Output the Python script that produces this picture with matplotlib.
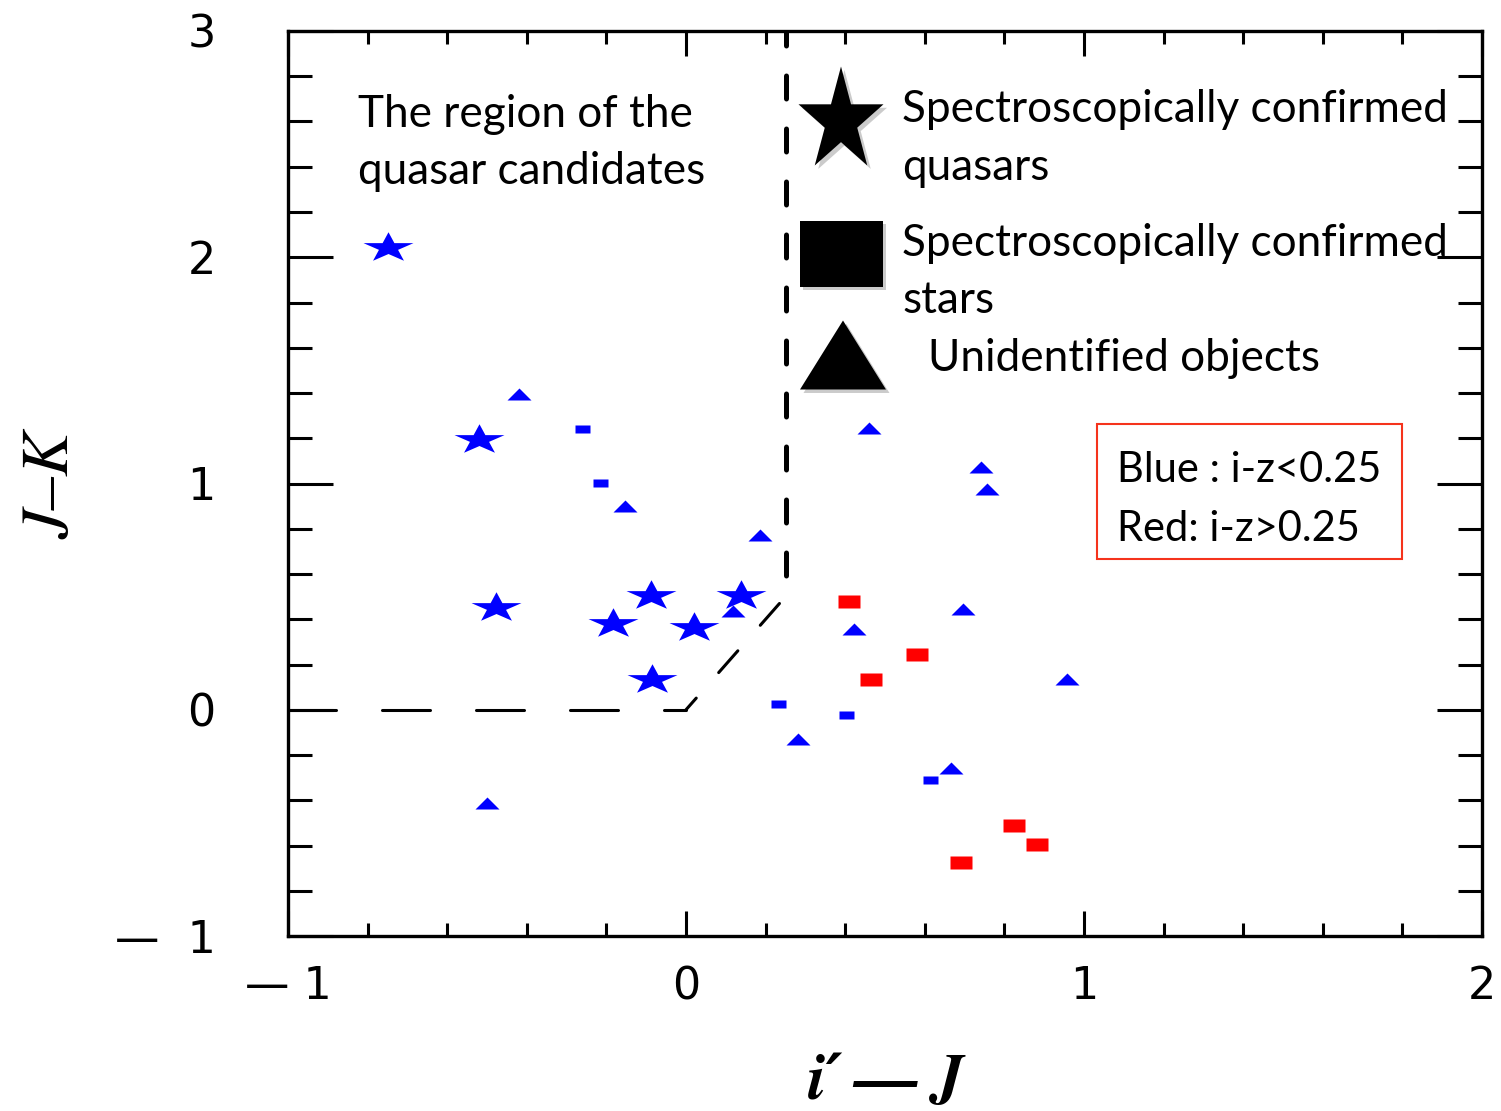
import numpy as np
import matplotlib
matplotlib.use("Agg")
import matplotlib.pyplot as plt
from matplotlib.path import Path
from matplotlib.patches import Rectangle
from matplotlib.ticker import MultipleLocator
import matplotlib.patheffects as pe

plt.rcParams['lines.scale_dashes'] = False

# ---- colour-colour measurements (i'-J, J-K) ----
quasar_ij = [-0.75, -0.52, -0.477, -0.183, -0.088, 0.020, 0.138, -0.085]
quasar_jk = [2.05, 1.20, 0.458, 0.388, 0.511, 0.370, 0.511, 0.140]

unid_ij = [-0.42, -0.153, 0.186, 0.118, 0.46, 0.741, 0.756, 0.696, 0.422,
           0.957, 0.282, 0.667, -0.50]
unid_jk = [1.395, 0.90, 0.772, 0.436, 1.245, 1.073, 0.976, 0.445, 0.357,
           0.136, -0.129, -0.257, -0.413]

star_blue_ij = [-0.261, -0.216, 0.231, 0.402, 0.613]
star_blue_jk = [1.24, 1.002, 0.025, -0.024, -0.31]

star_red_ij = [0.410, 0.580, 0.465, 0.824, 0.882, 0.691]
star_red_jk = [0.48, 0.247, 0.136, -0.509, -0.593, -0.673]

# candidate-region boundary
edge_h_x = [-1.0, 0.0]
edge_h_y = [0.0, 0.0]
edge_d_x = [0.0, 0.25]
edge_d_y = [0.0, 0.5]
edge_v_x = [0.25, 0.25]
edge_v_y = [0.5, 3.0]

xticks = [-1, 0, 1, 2]
xticklabels = ['\u2014 1', '0', '1', '2']
yticks = [-1, 0, 1, 2, 3]
yticklabels = ['\u2014  1', '0', '1', '2', '3']

W, H, DPI = 1501, 1111, 100


def px2pt(v):
    return v * 72.0 / DPI


def make_marker(verts):
    """Closed marker path given vertices in pixels; returns (path, markersize)."""
    v = np.asarray(verts, float)
    m = np.abs(v).max()
    path = Path(np.vstack([v, v[:1]]), closed=True)
    return path, px2pt(2 * m)


def star_verts(w, h):
    k = np.arange(10)
    ang = np.deg2rad(90 + 36 * k)
    r = np.where(k % 2 == 0, 1.0, 0.381966)
    x = r * np.cos(ang) * (w / 1.902)
    y = r * np.sin(ang) * (h / 1.809)
    y = y - (y.max() + y.min()) / 2
    return np.column_stack([x, y])


def tri_verts(w, h):
    return [(-w / 2, -h / 2), (w / 2, -h / 2), (0, h / 2)]


def rect_verts(w, h):
    return [(-w / 2, -h / 2), (w / 2, -h / 2), (w / 2, h / 2), (-w / 2, h / 2)]


fig = plt.figure(figsize=(W / DPI, H / DPI), dpi=DPI)
ax = fig.add_axes([288 / W, 1 - 936 / H, 1194 / W, 905 / H])
ax.set_xlim(-1, 2)
ax.set_ylim(-1, 3)

for s in ax.spines.values():
    s.set_linewidth(2.4)

ax.set_xticks(xticks)
ax.set_xticklabels(xticklabels)
ax.set_yticks(yticks)
ax.set_yticklabels(yticklabels)
ax.xaxis.set_minor_locator(MultipleLocator(0.2))
ax.yaxis.set_minor_locator(MultipleLocator(0.2))
ax.tick_params(axis='x', which='major', direction='in', top=True,
               length=18, width=2.2, pad=21)
ax.tick_params(axis='x', which='minor', direction='in', top=True,
               length=9.4, width=2.2)
ax.tick_params(axis='y', which='major', direction='in', right=True,
               length=32.4, width=2.2, pad=52)
ax.tick_params(axis='y', which='minor', direction='in', right=True,
               length=17.3, width=2.2)
for lab in ax.get_xticklabels() + ax.get_yticklabels():
    lab.set_fontfamily('DejaVu Sans')
    lab.set_fontweight('normal')
    lab.set_fontsize(32)

# boundary of the candidate region
ax.plot(edge_h_x, edge_h_y, color='k', lw=2.2,
        linestyle=(0, (px2pt(48), px2pt(46))), dash_capstyle='round')
ax.plot(edge_d_x, edge_d_y, color='k', lw=2.2,
        linestyle=(px2pt(13.5), (px2pt(29), px2pt(34))), dash_capstyle='round')
ax.plot(edge_v_x, edge_v_y, color='k', lw=3.6,
        linestyle=(px2pt(31.5), (px2pt(23), px2pt(30))), dash_capstyle='round')

# data markers
m_star, ms_star = make_marker(star_verts(50, 28.5))
m_tri, ms_tri = make_marker(tri_verts(24, 12))
m_bsq, ms_bsq = make_marker(rect_verts(15, 8.5))
m_rsq, ms_rsq = make_marker(rect_verts(22, 13))

kw = dict(ls='none', mec='none')
ax.plot(quasar_ij, quasar_jk, marker=m_star, ms=ms_star, mfc='#0000ff', **kw)
ax.plot(unid_ij, unid_jk, marker=m_tri, ms=ms_tri, mfc='#0000ff', **kw)
ax.plot(star_blue_ij, star_blue_jk, marker=m_bsq, ms=ms_bsq, mfc='#0000ff', **kw)
ax.plot(star_red_ij, star_red_jk, marker=m_rsq, ms=ms_rsq, mfc='#ff0000', **kw)

# key symbols with soft shadows
shadow = [pe.SimplePatchShadow(offset=(2.5, -2.5), shadow_rgbFace='0.55', alpha=0.45),
          pe.Normal()]
k_star, ks_star = make_marker(star_verts(85, 99))
k_sq, ks_sq = make_marker(rect_verts(83, 66))
k_tri, ks_tri = make_marker(tri_verts(86, 69))
for (mk, ms), (fx, fy) in zip([(k_star, ks_star), (k_sq, ks_sq), (k_tri, ks_tri)],
                              [(841, 116), (841, 254), (843, 355)]):
    ax.plot([(fx - 288) / 1194], [(936 - fy) / 905], transform=ax.transAxes,
            marker=mk, ms=ms, mfc='k', mec='none', ls='none', clip_on=False,
            path_effects=shadow)

# annotations
TXT = dict(family='Lato', fontsize=31.8, color='k', ha='left', va='baseline')


def ftext(x, y, s, **extra):
    d = dict(TXT)
    d.update(extra)
    fig.text(x / W, 1 - y / H, s, **d)


ftext(358, 127, 'The region of the')
ftext(358, 184, 'quasar candidates')
ftext(902, 122, 'Spectroscopically confirmed')
ftext(902, 180, 'quasars')
ftext(902, 256, 'Spectroscopically confirmed')
ftext(902, 313, 'stars')
ftext(928, 371, 'Unidentified objects')
ftext(1117, 482, 'Blue : i-z<0.25', fontsize=30.0)
ftext(1117, 541, 'Red: i-z>0.25', fontsize=30.0)

fig.add_artist(Rectangle((1097 / W, 1 - 559 / H), 305 / W, 135 / H,
                         transform=fig.transFigure, fill=False,
                         edgecolor='#f5331c', lw=1.5))

# axis titles
fig.text(886 / W, 1 - 1083 / H, 'i\u2032\u2009\u2014\u2009J',
         family=['STIXGeneral', 'DejaVu Serif'],
         style='italic', weight='bold', fontsize=46, ha='center', va='center')
fig.text(52 / W, 1 - 485 / H, 'J\u2013K', family=['STIXGeneral', 'DejaVu Serif'],
         style='italic', fontsize=48, rotation=90, ha='center', va='center')

fig.savefig('out.png', dpi=DPI)
